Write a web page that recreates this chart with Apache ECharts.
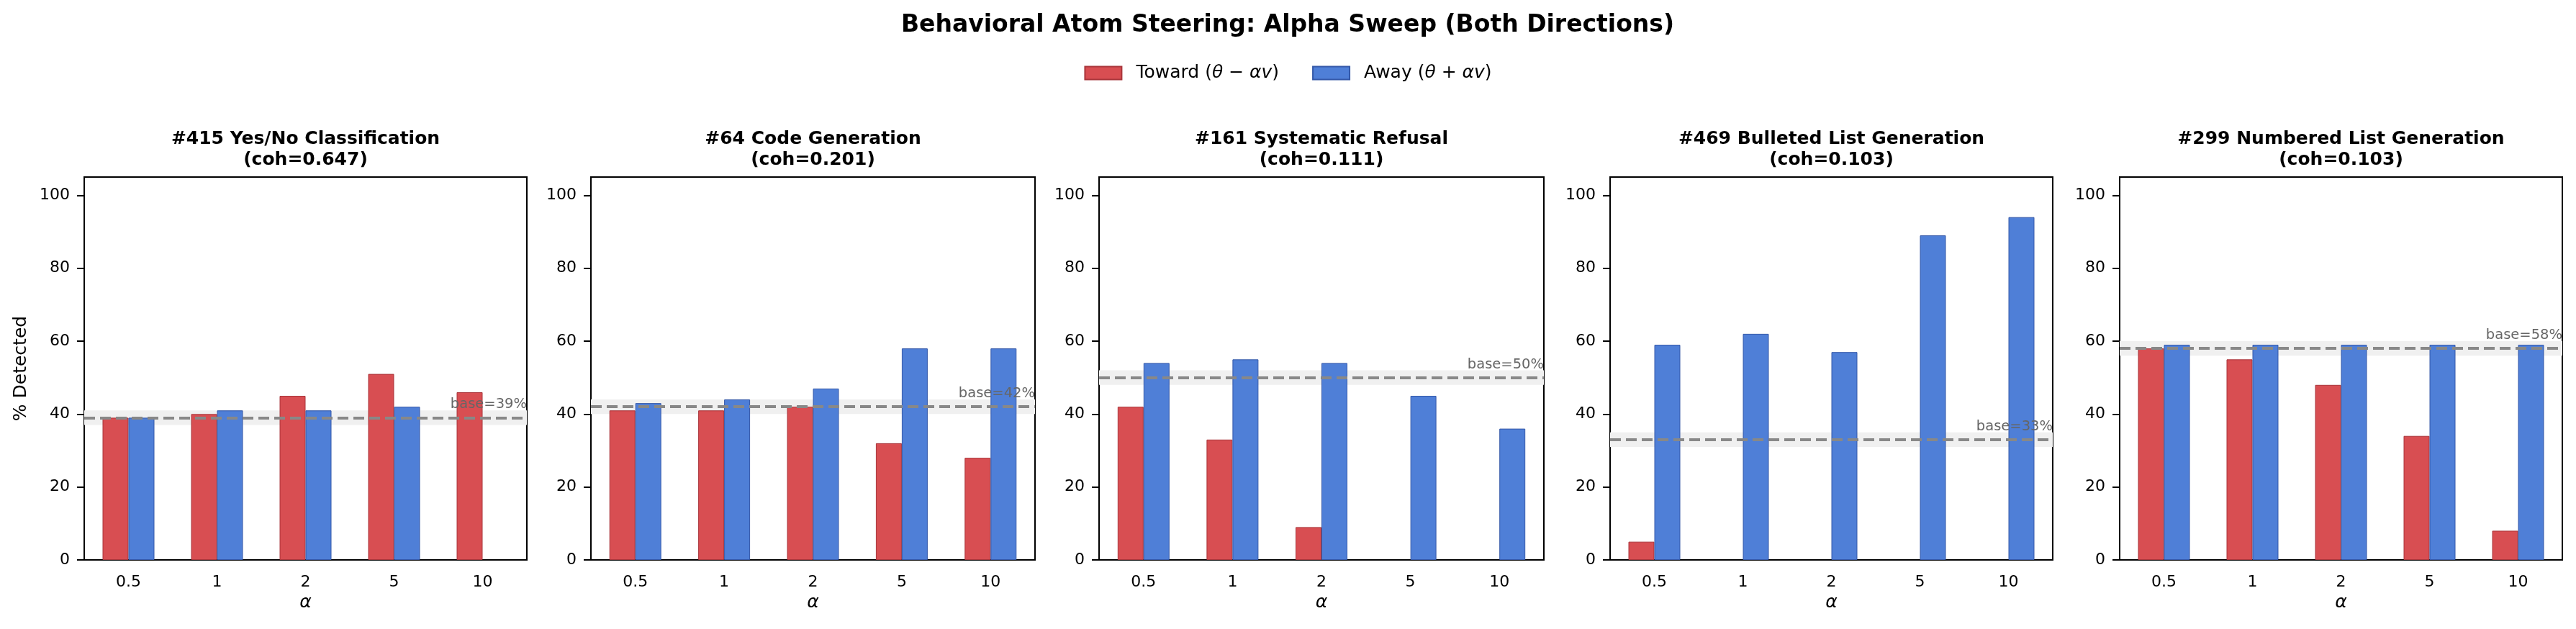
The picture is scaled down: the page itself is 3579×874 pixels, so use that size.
<!DOCTYPE html>
<html>
<head>
<meta charset="utf-8">
<title>Behavioral Atom Steering: Alpha Sweep</title>
<script src="https://cdn.jsdelivr.net/npm/echarts@6/dist/echarts.min.js"></script>
<style>
  html, body { margin: 0; padding: 0; background: #fff; }
  #main { width: 3579px; height: 874px; }
</style>
</head>
<body>
<div id="main"></div>
<script>
// alpha values on the x axis
const alphas = ['0.5', '1', '2', '5', '10'];

// panel titles and coherence
const atomNames = ['#415 Yes/No Classification', '#64 Code Generation', '#161 Systematic Refusal',
                   '#469 Bulleted List Generation', '#299 Numbered List Generation'];
const coherence = ['0.647', '0.201', '0.111', '0.103', '0.103'];
const baselines = [39, 42, 50, 33, 58];

// % detected, steering toward (theta - alpha v)
const toward415 = [39, 40, 45, 51, 46];
const toward64  = [41, 41, 42, 32, 28];
const toward161 = [42, 33, 9, 0, 0];
const toward469 = [5, 0, 0, 0, 0];
const toward299 = [58, 55, 48, 34, 8];

// % detected, steering away (theta + alpha v)
const away415 = [39, 41, 41, 42, 0];
const away64  = [43, 44, 47, 58, 58];
const away161 = [54, 55, 54, 45, 36];
const away469 = [59, 62, 57, 89, 94];
const away299 = [59, 59, 59, 59, 59];

const yTicks = [0, 20, 40, 60, 80, 100];

const towardAll = [toward415, toward64, toward161, toward469, toward299];
const awayAll = [away415, away64, away161, away469, away299];

const TOWARD = 'Toward (θ − αv)';
const AWAY = 'Away (θ + αv)';
const FONT = 'DejaVu Sans';
const RED = '#d84e52';
const BLUE = '#4f7fd7';

// layout of the five panels
const gridLeft = [117, 821, 1527, 2237, 2945];
const gridWidth = [615, 617, 618, 615, 615];
const gridTop = 246;
const gridHeight = 532;

// zero-height bars: no edge line at the axis
function barData(vals) {
  return vals.map(v => v === 0 ? { value: 0, itemStyle: { borderWidth: 0 } } : v);
}

var chartDom = document.getElementById('main');
var myChart = echarts.init(chartDom);

var grids = [], xAxes = [], yAxes = [], titles = [], series = [];

titles.push({
  text: 'Behavioral Atom Steering: Alpha Sweep (Both Directions)',
  left: 1789, top: 15, textAlign: 'center', padding: 0,
  textStyle: { fontFamily: FONT, fontSize: 33, fontWeight: 'bold', color: '#000', lineHeight: 40 }
});

for (let i = 0; i < 5; i++) {
  grids.push({
    left: gridLeft[i], top: gridTop, width: gridWidth[i], height: gridHeight,
    show: true, borderColor: '#000', borderWidth: 2, backgroundColor: 'transparent'
  });

  titles.push({
    text: atomNames[i] + '\n(coh=' + coherence[i] + ')',
    left: gridLeft[i] + gridWidth[i] / 2, top: 179, textAlign: 'center', padding: 0,
    textStyle: { fontFamily: FONT, fontSize: 25, fontWeight: 'bold', color: '#000', lineHeight: 29 }
  });

  xAxes.push({
    gridIndex: i, type: 'category', data: alphas,
    name: 'α', nameLocation: 'middle', nameGap: 46,
    nameTextStyle: { fontFamily: FONT, fontSize: 25, fontStyle: 'italic', color: '#000' },
    axisLine: { lineStyle: { color: '#000', width: 2 } },
    axisTick: { alignWithLabel: true, length: 10, lineStyle: { color: '#000', width: 2 } },
    axisLabel: { fontFamily: FONT, fontSize: 22, color: '#000', margin: 20 },
    splitLine: { show: false }
  });

  yAxes.push({
    gridIndex: i, type: 'value', min: 0, max: 105,
    name: i === 0 ? '% Detected' : '', nameLocation: 'middle', nameGap: 75,
    nameTextStyle: { fontFamily: FONT, fontSize: 25, color: '#000' },
    axisLine: { show: true, lineStyle: { color: '#000', width: 2 } },
    axisTick: { show: true, length: 10, customValues: yTicks, lineStyle: { color: '#000', width: 2 } },
    axisLabel: { fontFamily: FONT, fontSize: 22, color: '#000', margin: 20, customValues: yTicks },
    splitLine: { show: false }
  });

  const b = baselines[i];
  const blank = alphas.map(() => null);

  // baseline band + dashed line, behind the bars
  series.push({
    type: 'line', xAxisIndex: i, yAxisIndex: i, data: blank, z: 1, silent: true, showSymbol: false,
    markArea: {
      silent: true,
      itemStyle: { color: '#f0f0f0' },
      data: [[{ yAxis: b - 2 }, { yAxis: b + 2 }]]
    },
    markLine: {
      silent: true, symbol: 'none', animation: false,
      lineStyle: { color: '#888', width: 4, type: [15, 7] },
      label: { show: false },
      data: [{ yAxis: b }]
    }
  });

  series.push({
    name: TOWARD, type: 'bar', xAxisIndex: i, yAxisIndex: i, data: barData(towardAll[i]),
    barWidth: 36, barGap: '0%', z: 2,
    itemStyle: { color: RED, borderColor: '#a8353a', borderWidth: 1 }
  });
  series.push({
    name: AWAY, type: 'bar', xAxisIndex: i, yAxisIndex: i, data: barData(awayAll[i]),
    barWidth: 36, barGap: '0%', z: 2,
    itemStyle: { color: BLUE, borderColor: '#3458a8', borderWidth: 1 }
  });

  // "base=xx%" text, drawn above the bars
  series.push({
    type: 'line', xAxisIndex: i, yAxisIndex: i, data: blank, z: 5, silent: true, showSymbol: false,
    markLine: {
      silent: true, symbol: 'none', animation: false,
      lineStyle: { color: 'rgba(0,0,0,0)', width: 0 },
      label: {
        show: true, position: 'insideEndTop', distance: [0, 8],
        formatter: 'base=' + b + '%',
        fontFamily: FONT, fontSize: 19.5, color: '#666'
      },
      data: [{ yAxis: b }]
    }
  });
}

var option = {
  animation: false,
  backgroundColor: '#fff',
  title: titles,
  legend: {
    data: [TOWARD, AWAY],
    left: 'center', top: 89, padding: 0,
    itemWidth: 51, itemHeight: 18, itemGap: 46, icon: 'rect',
    formatter: function (name) {
      if (name === TOWARD) return '{f|Toward (}{i|θ}{n| − }{i|αv}{n|)}';
      return '{f|Away (}{i|θ}{n| + }{i|αv}{n|)}';
    },
    textStyle: {
      fontFamily: FONT, fontSize: 25, color: '#000',
      rich: {
        f: { fontFamily: FONT, fontSize: 25, color: '#000', padding: [0, 0, 0, 15] },
        n: { fontFamily: FONT, fontSize: 25, color: '#000' },
        i: { fontFamily: FONT, fontSize: 25, color: '#000', fontStyle: 'italic' }
      }
    }
  },
  grid: grids,
  xAxis: xAxes,
  yAxis: yAxes,
  series: series
};

option && myChart.setOption(option);
</script>
</body>
</html>
